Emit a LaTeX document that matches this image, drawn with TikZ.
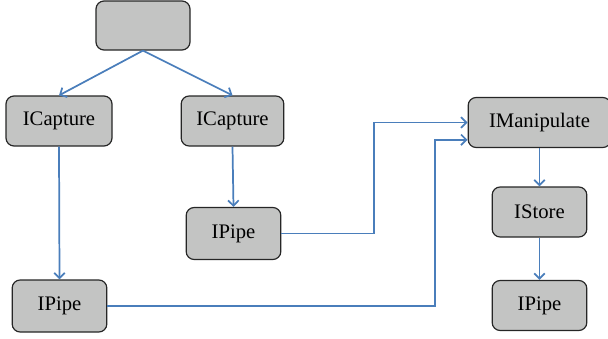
\documentclass[tikz,border=0pt]{standalone}
\usepackage{fontspec}
\setmainfont{Liberation Serif}
\usetikzlibrary{arrows.meta}

\definecolor{boxgray}{RGB}{195,196,195}
\definecolor{linkblue}{RGB}{74,126,187}

\tikzset{
  box/.style = {draw = black!85, fill = boxgray, rounded corners = 6pt,
                line width = 0.9pt, minimum width = 71pt, minimum height = 37.5pt,
                inner sep = 0pt, font = \fontsize{15.5}{18}\selectfont},
  link/.style = {draw = linkblue, line width = 1.3pt,
                 -{Straight Barb[length = 4pt, width = 8pt]}}
}

\begin{document}
\begin{tikzpicture}[x = 0.75pt, y = -0.75pt]
        \useasboundingbox (0,0) rectangle (608,339);

        % boxes
        \node[box, minimum width = 70.5pt, minimum height = 36.75pt] (root) at (143,25.5) {};
        \node[box, minimum width = 79.5pt] (captureL) at (59,121) {ICapture};
        \node[box, minimum width = 77pt] (captureR) at (232.5,121) {ICapture};
        \node[box, minimum height = 39pt] (pipeM) at (233.5,233.5) {IPipe};
        \node[box, minimum height = 39pt] (pipeL) at (59.5,306) {IPipe};
        \node[box, minimum width = 107pt] (manip) at (539.5,122.5) {IManipulate};
        \node[box] (store) at (539.5,212) {IStore};
        \node[box] (pipeR) at (539.5,305.5) {IPipe};

        % bends of the long links
        \coordinate (bendM) at (374,0);
        \coordinate (bendL) at (435,0);

        % links
        \draw[link] (root.south) -- (captureL.north);
        \draw[link] (root.south) -- (captureR.north);
        \draw[link] (captureL.south) -- (pipeL.north);
        \draw[link] (captureR.south) -- (pipeM.north);
        \draw[link] (pipeM.east) -- (pipeM.east -| bendM) |- (manip.west);
        \draw[link] (pipeL.east) -- (pipeL.east -| bendL) |- ([yshift = -13pt]manip.west);
        \draw[link] (manip.south) -- (store.north);
        \draw[link] (store.south) -- (pipeR.north);
\end{tikzpicture}
\end{document}
